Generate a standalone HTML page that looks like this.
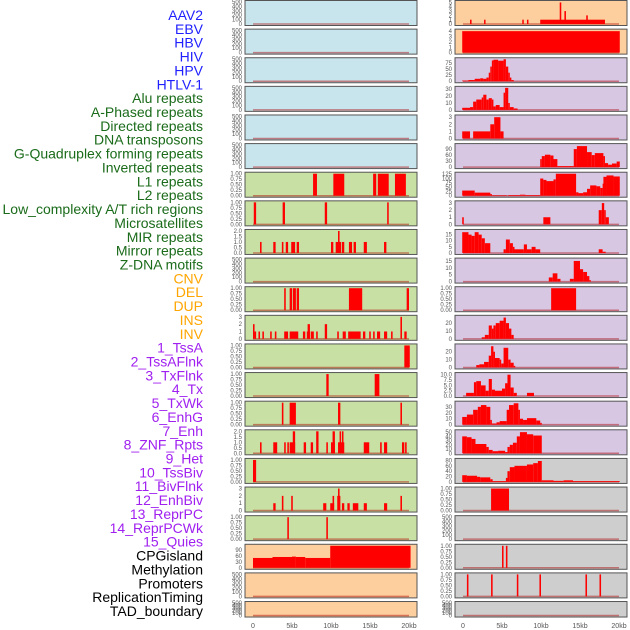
<!DOCTYPE html>
<html><head><meta charset="utf-8"><style>
html,body{margin:0;padding:0;background:#fff;}
svg{display:block;font-family:"Liberation Sans",sans-serif;}
</style></head><body>
<svg id="chart" width="630" height="630" viewBox="0 0 630 630" xmlns="http://www.w3.org/2000/svg"></svg>
<script>
const trackLabels=["AAV2","EBV","HBV","HIV","HPV","HTLV-1","Alu repeats","A-Phased repeats","Directed repeats","DNA transposons","G-Quadruplex forming repeats","Inverted repeats","L1 repeats","L2 repeats","Low_complexity A/T rich regions","Microsatellites","MIR repeats","Mirror repeats","Z-DNA motifs","CNV","DEL","DUP","INS","INV","1_TssA","2_TssAFlnk","3_TxFlnk","4_Tx","5_TxWk","6_EnhG","7_Enh","8_ZNF_Rpts","9_Het","10_TssBiv","11_BivFlnk","12_EnhBiv","13_ReprPC","14_ReprPCWk","15_Quies","CPGisland","Methylation","Promoters","ReplicationTiming","TAD_boundary"];
const labelColors=Array(6).fill("#1f1fff").concat(Array(13).fill("#1a6b1a"),Array(5).fill("#ffa500"),Array(15).fill("#a020f0"),Array(5).fill("#000"));
const xTickLabels=["0","5kb","10kb","15kb","20kb"];
const xTickValues=[0,5,10,15,20];
const T500=["0","100","200","300","400","500"],T1=["0.00","0.25","0.50","0.75","1.00"],T2=["0.0","0.5","1.0","1.5","2.0"],T3=["0","1","2","3"];
// left column: bg, ticks, axis top, bars [startKb,endKb,value]
const leftBg=["b","b","b","b","b","b","g","g","g","g","g","g","g","g","g","g","g","g","g","o","o","o"];
const leftTicks=[T500,T500,T500,T500,T500,T500,T1,T1,T2,T500,T1,T3,T1,T1,T1,T2,T1,T3,T1,["0","30","60","90"],T500,T500];
const leftTop=[500,500,500,500,500,500,1,1,2,500,1,3,1,1,1,2,1,3,1,112,500,500];
const leftBars=[[],[],[],[],[],[],
[[7.7,8.2,1],[10.3,11.7,1],[15.4,15.8,1],[16,17.4,1],[18.2,19.6,1]],
[[0.1,0.4,1],[3.8,4.1,1],[9.2,9.5,1],[17.2,17.4,1]],
[[0.9,1.1,1],[2.6,2.9,1],[3.7,3.9,1],[4.2,4.5,1],[4.9,5.4,1],[5.6,5.9,1],[10,10.3,1],[10.6,11.3,1],[10.9,11.1,2],[11.4,11.7,1],[12.3,12.7,1],[12.9,13.2,1],[14.2,14.6,1],[16.8,17.1,1]],
[],
[[4,4.2,1],[4.7,5,1],[5.1,5.5,1],[5.6,5.9,1],[12.3,14,1],[19.7,20,1]],
[[0,0.2,2],[0.2,0.4,1],[0.7,0.9,1],[1.2,1.4,1],[2.2,2.4,1],[2.8,3,1],[4,4.5,1],[4.7,5.8,1],[6.4,6.7,1],[6.9,7.3,1],[7,7.3,2],[7.4,7.8,1],[8.1,8.3,1],[9.2,9.5,2],[10.8,11,1],[11.5,11.9,1],[12.2,13.8,1],[14.1,14.4,1],[14.9,15.1,1],[15.4,15.6,1],[15.9,16.3,1],[16.8,17.2,1],[17.7,17.9,1],[18.9,19.1,3],[19.4,19.7,1]],
[[19.4,20.1,1]],
[[9.4,9.7,1],[15.6,16.2,1]],
[[3.7,3.9,1],[4.7,5.5,1],[10.9,11.2,1],[18.9,19.1,1]],
[[0.9,1.1,1],[2.6,3.1,1],[4,4.2,1],[4.4,4.6,1],[4.7,5.4,1],[5.1,5.4,2],[6.5,6.8,1],[7.4,7.7,1],[8.1,8.4,2],[9.4,9.6,1],[10,10.5,1],[10.2,10.5,2],[10.9,11.7,1],[11.1,11.2,2],[11.4,11.6,2],[14.2,14.9,1],[16.3,16.5,1],[16.8,17.2,1],[19.1,19.4,1],[19.5,19.7,1]],
[[0,0.4,1]],
[[2.6,2.9,1],[3.7,3.9,2],[4.9,5.1,2],[9,9.4,1],[9.9,10.4,1],[10.2,10.4,2],[10.8,11.2,2],[10.9,11.1,3],[11.4,11.7,1],[12.1,12.4,1],[12.8,13.5,1],[14.2,14.6,1],[16.8,17.2,1],[18.9,19.1,2]],
[[4.4,4.6,1],[9.4,9.6,1]],
[[0,2.5,50],[2.5,5,55],[5,5.5,57],[5.5,6.7,55],[6.7,9.9,50],[9.9,20.2,112]],
[],[]];
const rightBg=["o","o","p","p","p","p","p","p","p","p","p","p","p","p","p","p","y","y","y","y","y","y"];
const rightTicks=[["0","1","2","3","4","5"],["0","1","2","3","4"],["0","25","50","75"],["0","10","20","30"],T3,["0","30","60","90"],["0","25","50","75","100","125"],T3,["0","5","10","15"],["0","5","10","15"],T1,["0","10","20"],["0","10","20"],["0.0","2.5","5.0","7.5","10.0"],["0","10","20","30"],["0","10","20","30","40","50"],["0","20","40","60","80"],T1,T500,T1,T1,T500];
const rightTop=[5.1,4.1,90,32,3.1,110,128,3.1,18,16,1,28,28,10.3,37,52,82,1,500,1,1,500];
const rightBars=[
[[0.9,1.1,1],[2.7,2.8,1],[7.6,7.7,1],[8.2,8.3,1],[9.9,18.2,1],[12.4,12.6,5],[13,13.2,3],[15.8,16,2]],
[[-0.1,20.1,4]],
[[-0.1,0.7,3],[0.7,1.5,5],[1.5,2.2,10],[2.2,2.6,12],[2.6,3,10],[3,3.3,15],[3.3,3.5,35],[3.5,3.7,60],[3.7,3.9,85],[3.9,4.5,88],[4.5,5.2,84],[5.2,5.5,90],[5.5,5.8,60],[5.8,6,35],[6,6.2,15],[6.2,6.5,5]],
[[-0.1,0.9,3],[0.9,1.3,4],[1.3,1.7,12],[1.7,2.4,15],[2.4,2.6,18],[2.6,3,22],[3,3.3,15],[3.3,3.7,17],[3.7,3.9,15],[3.9,4.2,5],[4.2,4.7,7],[4.7,5.2,4],[5.2,5.4,25],[5.4,5.8,32],[5.8,6,10],[6,6.5,4],[6.5,7,2]],
[[-0.1,0.9,1],[1.3,3.5,1],[3.5,4,2],[4,4.8,3],[4.8,5.2,1]],
[[9.9,10.1,40],[10.1,10.5,55],[10.5,11.2,62],[11.2,11.6,58],[11.6,12.1,40],[12.1,14.2,5],[14.2,14.6,90],[14.6,15.9,105],[15.9,16.5,75],[16.5,16.9,60],[16.9,18,70],[18,18.2,55],[18.2,18.6,20],[18.6,19.1,12],[19.1,19.7,18],[19.7,20.1,28]],
[[-0.1,1.5,30],[1.5,3.5,18],[3.5,3.7,10],[3.7,5.6,3],[5.8,7.3,4],[7.3,8,6],[8,9.9,4],[9.9,10.3,100],[10.3,10.7,92],[10.7,11.6,85],[11.6,11.9,95],[11.9,14.5,128],[14.5,14.8,20],[14.8,15.4,15],[15.4,15.9,20],[15.9,16.3,40],[16.3,17.1,60],[17.1,17.6,55],[17.6,17.9,45],[17.9,18,70],[18,18.4,110],[18.4,19.3,118],[19.3,20.1,112]],
[[-0.1,0.1,1],[10.3,11.2,1],[17.4,17.8,2],[17.8,18.1,3],[18.1,18.3,2],[18.3,18.7,1]],
[[-0.1,0.7,17],[0.7,1.1,15],[1.1,1.5,14],[1.5,2,17],[2,2.4,15],[2.4,2.8,12],[2.8,3.5,8],[5.2,5.5,3],[5.5,6,11],[6,6.4,8],[6.4,6.6,5],[6.6,7.8,3],[7.8,8.2,7],[8.2,8.8,3],[8.8,9.3,5],[9.3,9.9,3],[17.4,17.9,3],[17.9,18.3,1]],
[[11,11.5,3],[11.5,12.1,6],[12.1,12.5,2],[13.7,14.2,2],[14.2,15,15],[15,15.4,9],[15.4,15.9,7],[15.9,16.2,4],[16.2,16.4,1]],
[[11.3,14.5,1]],
[[2.4,2.8,2],[2.8,3.3,5],[3.3,3.7,17],[3.7,3.9,13],[3.9,4.2,17],[4.2,4.7,20],[4.7,5.2,23],[5.2,5.5,27],[5.5,5.9,20],[5.9,6.2,13],[6.2,6.5,5]],
[[1.7,2.1,3],[2.1,2.7,4],[2.7,3.3,7],[3.3,3.6,15],[3.6,3.9,27],[3.9,4.1,20],[4.1,4.7,12],[4.7,4.9,10],[4.9,5.2,5],[5.2,5.8,25],[5.8,6.1,10],[6.1,6.5,6],[6.5,6.7,2]],
[[0.4,1.4,1.5],[1.4,1.7,6.5],[1.7,2.3,7],[2.3,2.9,5],[2.9,3.3,2.5],[3.3,3.7,8],[3.7,4.1,3],[4.1,5,2.5],[5,5.4,3.5],[5.4,5.7,6],[5.7,6.1,10],[6.1,6.5,4],[6.5,6.9,1.5],[8.2,9.1,1.5]],
[[-0.1,0.5,13],[0.5,1.3,17],[1.3,1.9,25],[1.9,2.3,30],[2.3,3,33],[3,3.5,30],[3.5,3.7,8],[3.7,4.3,2],[4.3,4.7,4],[4.7,5.6,6],[5.6,5.9,25],[5.9,6.5,33],[6.5,7.1,36],[7.1,7.3,25],[7.3,7.7,10],[7.7,8.2,8],[8.2,9.4,11],[9.4,9.9,7],[9.9,10.1,3]],
[[-0.1,0.5,40],[0.5,1.1,38],[1.1,1.6,34],[1.6,3,22],[3,3.3,15],[3.3,3.8,8],[3.8,4.5,5],[4.5,5.4,6],[5.4,5.7,3],[5.7,6,15],[6,6.4,20],[6.4,6.9,25],[6.9,7.3,40],[7.3,8.2,50],[8.2,9,45],[9,10.1,42]],
[[-0.1,0.5,25],[0.5,1.8,23],[1.8,2.2,19],[2.2,3.5,17],[3.5,3.8,10],[3.8,5.5,3],[5.5,5.7,15],[5.7,6,40],[6,6.6,55],[6.6,8.2,60],[8.2,9,65],[9,9.6,70],[9.6,10.1,78],[10.1,11.6,6],[11.6,12.9,4],[12.9,14.1,6],[14.1,20.1,3]],
[[3.6,5.9,1]],
[],
[[5,5.2,1],[5.5,5.7,1]],
[[0.5,0.7,1],[3.6,3.8,1],[6.9,7.1,1],[9.8,10,1],[15.7,15.9,1],[17.5,17.7,1]],
[]];

const bgColors={b:"#c8e4ec",g:"#c8e0a3",o:"#fecf9e",p:"#d7c7e3",y:"#cecece"};
const NS="http://www.w3.org/2000/svg";
const svg=document.getElementById("chart");
function mk(tag,attrs,parent){const e=document.createElementNS(NS,tag);for(const k in attrs)e.setAttribute(k,attrs[k]);(parent||svg).appendChild(e);return e;}
const ROW=28.62;
function rowTop(i){return i*ROW+0.5;}
function rowH(i){return i===21?15.5:25;}

// labels
trackLabels.forEach((t,i)=>{
  const e=mk("text",{x:203,y:15+i*13.86+5,"text-anchor":"end","font-size":"14",fill:labelColors[i]});
  
  
  e.textContent=t;
});

function drawColumn(colX0,zeroX,bgs,ticks,tops,bars,side){
  const xs=kb=>zeroX+kb*7.8;
  for(let i=0;i<22;i++){
    const t=rowTop(i),h=rowH(i);
    const g=mk("g",{});
    
    
    mk("rect",{x:colX0,y:t,width:172,height:h,fill:bgColors[bgs[i]],stroke:"#555","stroke-width":1},g);
    const y0=t+h-1.5,y1=t+1.5;
    const ys=v=>y0-(v/tops[i])*(y0-y1);
    // baseline
    mk("line",{x1:xs(0),x2:xs(20),y1:y0,y2:y0,stroke:"rgba(170,0,0,0.45)","stroke-width":1.5},g);
    bars[i].forEach(b=>{
      const r=mk("rect",{x:xs(b[0]),y:ys(b[2]),width:Math.max(xs(b[1])-xs(b[0]),1.5),height:y0-ys(b[2]),fill:"#ff0000"},g);
      
      
    });
    const tk=ticks[i];
    tk.forEach(lbl=>{
      const v=parseFloat(lbl);
      const e=mk("text",{x:colX0-3,y:ys(v)+2,"text-anchor":"end","font-size":"6",fill:"#555"},g);
      
      
      e.textContent=lbl;
    });
  }
  xTickValues.forEach((v,k)=>{
    const e=mk("text",{x:xs(v),y:628,"text-anchor":"middle","font-size":"7",fill:"#555"});
    
    
    e.textContent=xTickLabels[k];
  });
}
drawColumn(245,253,leftBg,leftTicks,leftTop,leftBars,"left");
drawColumn(455,463,rightBg,rightTicks,rightTop,rightBars,"right");
</script>
</body></html>
